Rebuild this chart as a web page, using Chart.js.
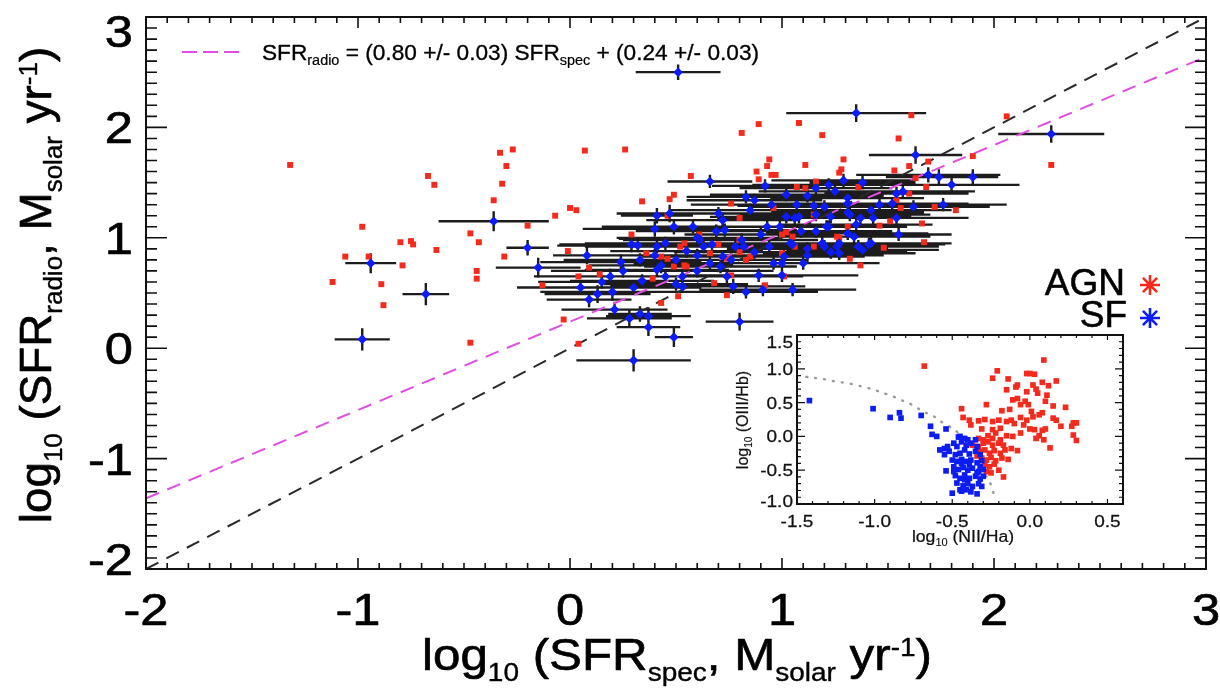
<!DOCTYPE html>
<html>
<head>
<meta charset="utf-8">
<script src="https://cdn.jsdelivr.net/npm/chart.js@4.4.1/dist/chart.umd.min.js"></script>
<style>
  html, body { margin: 0; padding: 0; background: #fff; }
  #wrap { position: relative; width: 1220px; height: 688px; overflow: hidden; background: #fff; }
  #main { position: absolute; left: 0; top: 0; }
  #inset { position: absolute; left: 700px; top: 325px; }
</style>
</head>
<body>
<div id="wrap">
  <canvas id="main" width="1220" height="688"></canvas>
  <canvas id="inset" width="440" height="230"></canvas>
</div>
<script>
// ---------------- DATA ----------------
// Main panel: AGN (red squares)
const agnX = [-1.32,-0.98,-1.06,-0.95,-1.12,-0.89,-0.88,-0.80,-0.75,-0.74,
  -0.79,-0.67,-0.64,-0.63,-0.47,-0.47,-0.43,-0.44,-0.44,-0.33,
  -0.27,-0.30,-0.32,-0.36,-0.31,-0.20,-0.07,0.00,0.03,-0.01,
  -0.13,-0.03,0.04,0.07,0.09,0.04,0.26,0.57,0.94,0.93,
  0.88,0.95,0.97,0.89,0.34,0.47,0.49,0.96,0.76,0.80,
  0.29,0.46,0.14,0.39,0.46,0.52,0.54,0.49,0.55,0.68,
  0.74,0.76,0.83,0.85,0.92,0.74,0.43,0.51,0.80,1.00,
  0.89,1.08,0.81,1.19,1.61,1.55,1.11,1.29,1.28,1.27,
  1.53,1.60,1.69,1.90,2.06,1.16,1.07,1.11,1.36,1.63,
  1.68,1.60,1.54,1.56,1.72,1.15,1.66,1.46,1.51,1.31,
  1.27,1.67,1.48,1.32,1.37,1.05,1.01,2.27,1.82,0.54,
  0.43,1.00,1.02,1.06,1.15,1.26,0.61,0.66,0.36,0.70,0.80];
const agnY = [1.66,1.10,0.83,0.83,0.60,0.58,0.39,0.96,0.97,0.94,
  0.75,1.56,1.48,0.89,0.05,1.04,0.96,0.70,0.63,1.77,
  1.80,1.65,1.49,1.34,0.83,1.11,1.20,1.27,1.25,0.88,
  0.57,0.26,0.04,1.79,0.73,0.65,1.80,1.56,1.71,1.65,
  1.60,1.57,1.57,1.53,1.33,1.35,1.39,1.27,1.31,1.18,
  1.03,1.20,0.67,0.63,0.81,0.92,0.95,0.74,0.74,0.59,
  0.81,0.66,0.80,0.83,0.57,0.48,0.41,0.47,0.87,0.86,
  2.03,2.04,1.95,1.93,2.11,1.90,1.66,1.71,1.62,1.59,
  1.61,1.65,1.69,1.74,2.10,1.51,1.46,1.45,1.46,1.54,
  1.46,1.40,1.34,1.27,1.28,1.21,1.13,1.11,1.15,1.10,
  1.00,0.96,0.91,0.81,0.75,1.01,0.65,1.66,1.25,0.75,
  0.83,1.03,1.05,0.92,0.92,1.01,1.03,0.86,0.86,0.94,0.98];

// Main panel: SF (blue points with error bars)
const sfX = [-0.94,-0.68,-0.98,-0.36,-0.20,-0.15,0.08,0.66,0.92,0.83,
  0.87,0.72,0.41,0.47,0.49,0.40,0.69,0.73,0.29,0.32,
  0.41,0.61,0.67,0.82,0.24,0.40,0.43,0.50,0.19,0.41,
  0.53,0.71,0.77,0.83,0.89,0.96,1.00,0.09,0.13,0.20,
  0.34,0.50,0.53,0.21,0.28,0.33,0.37,0.37,0.49,0.80,
  0.30,1.35,1.63,1.69,1.74,1.80,1.90,1.29,1.38,1.02,
  1.12,1.16,1.22,1.25,1.31,1.31,1.46,1.52,1.54,1.57,
  1.62,1.76,1.07,1.15,1.20,1.31,1.06,1.16,1.37,1.43,
  1.54,1.22,1.35,1.16,1.09,1.55,1.27,1.34,1.41,1.04,
  1.05,1.20,1.38,1.23,1.27,1.12,1.10,1.05,0.99,2.27,
  0.51,0.93,1.02,0.90,0.81,0.76,1.00,0.91,0.74,0.66,
  0.60,0.61,0.55,0.60,0.63,0.72,0.78,0.87,0.94,1.01,
  1.12,1.19,1.26,1.36,1.42,1.31,1.21,1.08,1.23,1.32,
  1.42,0.15,0.25,0.33,0.45,0.58,0.70,0.85,0.95,0.05,
  0.60,0.45,0.30];
const sfY = [0.77,0.49,0.08,1.15,0.91,0.73,0.84,1.51,1.47,1.37,
  1.34,1.16,1.20,1.22,1.10,1.08,1.06,1.07,0.94,0.93,
  0.92,0.99,0.94,0.92,0.78,0.84,0.75,0.80,0.65,0.71,
  0.65,0.74,0.56,0.51,0.66,0.77,0.66,0.44,0.49,0.51,
  0.61,0.58,0.56,0.35,0.27,0.31,0.29,0.19,0.10,0.24,
  -0.11,2.13,1.75,1.57,1.55,1.48,1.55,1.52,1.50,1.39,
  1.38,1.45,1.48,1.42,1.36,1.31,1.30,1.31,1.40,1.42,
  1.28,1.30,1.30,1.29,1.28,1.23,1.18,1.21,1.18,1.18,
  1.18,1.10,1.12,1.06,1.06,1.03,0.95,1.01,0.94,0.95,
  0.94,0.92,0.89,0.87,0.86,0.84,0.77,0.53,1.10,1.94,
  2.50,1.10,1.19,1.03,0.98,0.80,0.77,0.53,0.65,0.77,
  0.84,0.98,0.88,1.00,0.92,0.83,0.92,0.87,0.92,0.83,
  0.90,0.95,0.92,0.92,0.95,1.04,1.10,1.19,1.19,1.21,
  1.25,0.60,0.70,0.80,0.95,1.10,1.22,1.25,1.30,0.55,
  0.70,0.65,0.55];
const sfXErr = [0.12,0.11,0.13,0.26,0.10,0.20,0.16,0.20,0.25,0.28,
  0.32,0.36,0.17,0.25,0.34,0.34,0.38,0.34,0.34,0.38,
  0.34,0.38,0.34,0.38,0.38,0.34,0.34,0.38,0.36,0.34,
  0.34,0.36,0.34,0.34,0.36,0.36,0.36,0.20,0.25,0.34,
  0.34,0.34,0.34,0.25,0.20,0.15,0.20,0.15,0.09,0.16,
  0.27,0.33,0.22,0.34,0.25,0.32,0.12,0.34,0.25,0.36,
  0.36,0.36,0.36,0.36,0.36,0.36,0.36,0.36,0.34,0.34,
  0.36,0.30,0.36,0.36,0.36,0.36,0.36,0.36,0.36,0.36,
  0.34,0.36,0.36,0.36,0.36,0.25,0.36,0.36,0.36,0.36,
  0.36,0.36,0.36,0.36,0.36,0.36,0.36,0.30,0.36,0.25,
  0.20,0.36,0.36,0.36,0.36,0.36,0.36,0.30,0.36,0.36,
  0.36,0.36,0.36,0.38,0.38,0.38,0.38,0.38,0.38,0.38,
  0.38,0.38,0.38,0.38,0.38,0.38,0.38,0.38,0.38,0.38,
  0.38,0.30,0.34,0.36,0.38,0.38,0.38,0.38,0.38,0.30,
  0.36,0.36,0.32];
const sfYErr = [0.09,0.10,0.10,0.09,0.07,0.09,0.08,0.06,0.06,0.06,
  0.06,0.07,0.07,0.08,0.07,0.07,0.06,0.06,0.07,0.06,
  0.06,0.06,0.07,0.06,0.07,0.06,0.07,0.06,0.07,0.06,
  0.07,0.06,0.07,0.06,0.06,0.06,0.06,0.07,0.08,0.08,
  0.06,0.06,0.06,0.07,0.08,0.07,0.08,0.08,0.09,0.08,
  0.10,0.08,0.08,0.07,0.07,0.07,0.07,0.06,0.06,0.06,
  0.06,0.06,0.06,0.06,0.06,0.06,0.06,0.06,0.06,0.06,
  0.06,0.06,0.06,0.06,0.06,0.06,0.06,0.06,0.06,0.06,
  0.06,0.06,0.06,0.06,0.06,0.06,0.06,0.06,0.06,0.06,
  0.06,0.06,0.06,0.06,0.06,0.06,0.06,0.06,0.06,0.08,
  0.07,0.06,0.06,0.06,0.06,0.06,0.06,0.06,0.06,0.06,
  0.06,0.06,0.06,0.06,0.06,0.06,0.06,0.06,0.06,0.06,
  0.06,0.06,0.06,0.06,0.06,0.06,0.06,0.06,0.06,0.06,
  0.06,0.06,0.06,0.06,0.06,0.06,0.06,0.06,0.06,0.06,
  0.06,0.06,0.06];

// Reference lines (end points)
const lineX = [-2, 3];
const oneToOneY = [-2, 3];
const fitY = [-1.36, 2.64];

// Main axis ticks
const mainXTicks = [-2, -1, 0, 1, 2, 3];
const mainYTicks = [-2, -1, 0, 1, 2, 3];
const mainXTickLabels = ['-2', '-1', '0', '1', '2', '3'];
const mainYTickLabels = ['-2', '-1', '0', '1', '2', '3'];

// Inset (BPT diagram)
const bptSfX = [-1.42,-1.01,-0.90,-0.84,-0.83,-0.70,-0.64,-0.63,-0.60,-0.54,
  -0.46,-0.58,-0.55,-0.54,-0.50,-0.45,-0.44,-0.34,-0.31,
  -0.49,-0.47,-0.44,-0.41,-0.38,-0.34,-0.52,-0.48,-0.45,-0.42,
  -0.39,-0.35,-0.32,-0.50,-0.47,-0.44,-0.41,-0.38,-0.34,-0.31,
  -0.49,-0.46,-0.43,-0.40,-0.37,-0.33,-0.30,-0.48,-0.45,-0.42,
  -0.39,-0.35,-0.32,-0.47,-0.43,-0.40,-0.37,-0.33,-0.41,-0.38,
  -0.42,-0.45,-0.40,-0.35,-0.53,-0.55,-0.39,-0.42,-0.44,-0.34,
  -0.30,-0.32,-0.49];
const bptSfY = [0.53,0.41,0.28,0.35,0.27,0.31,0.15,0.03,0.00,0.11,
  -0.01,-0.20,-0.27,-0.51,-0.84,-0.79,-0.81,-0.85,-0.74,
  -0.10,-0.15,-0.08,-0.13,-0.10,-0.15,-0.22,-0.27,-0.25,-0.20,
  -0.26,-0.22,-0.27,-0.35,-0.37,-0.34,-0.37,-0.35,-0.39,-0.36,
  -0.45,-0.49,-0.46,-0.50,-0.47,-0.52,-0.49,-0.58,-0.62,-0.57,
  -0.62,-0.59,-0.63,-0.69,-0.73,-0.70,-0.74,-0.70,-0.79,-0.82,
  -0.03,0.00,-0.05,-0.05,-0.15,-0.18,-0.42,-0.64,-0.40,-0.54,
  -0.59,-0.45,-0.52];
const bptAgnX = [-0.68,0.09,-0.21,-0.24,-0.14,-0.02,0.00,0.03,-0.08,-0.09,
  -0.15,-0.02,0.02,0.08,0.12,0.17,0.04,0.05,0.11,0.10,
  -0.28,-0.44,-0.18,-0.13,-0.06,-0.03,-0.01,-0.11,-0.08,0.01,
  0.02,0.06,0.08,0.15,0.23,0.15,0.17,0.20,0.28,0.30,
  0.27,0.28,0.30,-0.43,-0.39,-0.33,-0.29,-0.24,-0.20,-0.38,
  -0.31,-0.24,-0.19,-0.15,-0.12,-0.10,-0.06,-0.04,-0.02,0.00,
  0.03,0.08,0.10,0.06,0.04,0.09,0.13,-0.12,-0.08,-0.14,
  -0.17,-0.20,-0.06,-0.11,-0.15,-0.19,-0.37,-0.33,-0.30,-0.27,
  -0.24,-0.20,-0.32,-0.29,-0.26,-0.23,-0.19,-0.31,-0.28,-0.25,
  -0.22,-0.18,-0.29,-0.26,-0.23,-0.28,-0.25,-0.30,-0.33,-0.27,
  -0.24,-0.22,-0.17,-0.16,-0.34];
const bptAgnY = [1.04,1.13,0.97,0.86,0.85,0.93,0.93,0.92,0.76,0.73,
  0.69,0.66,0.76,0.80,0.75,0.82,0.70,0.64,0.61,0.52,
  0.47,0.41,0.38,0.40,0.47,0.52,0.47,0.54,0.56,0.37,
  0.29,0.32,0.35,0.45,0.43,0.27,0.24,0.15,0.20,0.20,
  0.15,0.02,-0.06,0.28,0.24,0.23,0.25,0.22,0.24,0.17,
  0.11,0.10,0.12,0.22,0.24,0.19,0.28,0.17,0.24,0.11,
  0.10,0.09,0.11,0.01,-0.03,-0.05,-0.17,-0.18,-0.21,-0.34,
  -0.60,-0.50,0.05,0.00,0.01,-0.05,-0.13,-0.15,-0.10,-0.08,
  -0.13,-0.10,-0.22,-0.20,-0.25,-0.21,-0.25,-0.32,-0.35,-0.31,
  -0.36,-0.32,-0.42,-0.45,-0.41,-0.52,-0.54,-0.05,-0.03,0.01,
  -0.03,0.05,-0.13,-0.20,-0.29];
// Demarcation curve
const kaufX = [-1.44,-1.37,-1.31,-1.25,-1.18,-1.12,-1.05,-0.99,-0.93,-0.88,-0.83,-0.77,-0.73,-0.69,
  -0.64,-0.60,-0.56,-0.52,-0.47,-0.43,-0.40,-0.37,-0.33,-0.30,-0.28,-0.25,-0.23];
const kaufY = [0.88,0.86,0.84,0.81,0.79,0.76,0.72,0.68,0.63,0.59,0.54,0.48,0.43,0.37,
  0.32,0.27,0.20,0.15,0.07,-0.01,-0.10,-0.20,-0.31,-0.45,-0.59,-0.72,-0.87];
const insetXTicks = [-1.5, -1.0, -0.5, 0.0, 0.5];
const insetYTicks = [-1.0, -0.5, 0.0, 0.5, 1.0, 1.5];
const insetXTickLabels = ['-1.5', '-1.0', '-0.5', '0.0', '0.5'];
const insetYTickLabels = ['-1.0', '-0.5', '0.0', '0.5', '1.0', '1.5'];

// ---------------- HELPERS ----------------
const FONT = '"Liberation Sans", Arial, Helvetica, sans-serif';
const RED = '#f42a1c';
const BLUE = '#0c1cf2';
const MAGENTA = '#e04fe0';
const STROKE = 0.015;

function pts(xs, ys) { return xs.map((v, i) => ({ x: v, y: ys[i] })); }
function hBars(xs, ys, es) {
  const out = [];
  xs.forEach((v, i) => { out.push({ x: v - es[i], y: ys[i] }, { x: v + es[i], y: ys[i] }, { x: v, y: null }); });
  return out;
}
function vBars(xs, ys, es) {
  const out = [];
  xs.forEach((v, i) => { out.push({ x: v, y: ys[i] - es[i] }, { x: v, y: ys[i] + es[i] }, { x: v, y: null }); });
  return out;
}
function txt(ctx, s, x, y, size, sx, align) {
  ctx.save();
  ctx.font = size + 'px ' + FONT;
  const w = ctx.measureText(s).width * sx;
  const x0 = align === 'center' ? x - w / 2 : (align === 'right' ? x - w : x);
  ctx.translate(x0, y); ctx.scale(sx, 1);
  ctx.textAlign = 'left'; ctx.textBaseline = 'alphabetic';
  ctx.fillText(s, 0, 0);
  ctx.strokeStyle = ctx.fillStyle; ctx.lineWidth = size * STROKE; ctx.lineJoin = 'round';
  ctx.strokeText(s, 0, 0);
  ctx.restore();
}
function richWidth(ctx, segs) {
  let w = 0;
  segs.forEach(s => { ctx.font = s.s + 'px ' + FONT; w += ctx.measureText(s.t).width; });
  return w;
}
// draws rich text with baseline at (x,y); rot in radians
function rich(ctx, segs, x, y, sx, align, rot) {
  ctx.save();
  ctx.translate(x, y);
  if (rot) ctx.rotate(rot);
  ctx.scale(sx, 1);
  const w = richWidth(ctx, segs);
  let cx = align === 'center' ? -w / 2 : 0;
  ctx.textAlign = 'left'; ctx.textBaseline = 'alphabetic';
  ctx.strokeStyle = ctx.fillStyle; ctx.lineJoin = 'round';
  segs.forEach(s => {
    ctx.font = s.s + 'px ' + FONT;
    ctx.fillText(s.t, cx, s.dy || 0);
    ctx.lineWidth = s.s * STROKE;
    ctx.strokeText(s.t, cx, s.dy || 0);
    cx += ctx.measureText(s.t).width;
  });
  ctx.restore();
}
function drawTicks(ctx, a, xs, ys, o) {
  ctx.save();
  ctx.strokeStyle = '#111'; ctx.lineWidth = o.lw; ctx.lineCap = 'butt';
  ctx.beginPath();
  const nx = Math.round((xs.max - xs.min) / o.minorX);
  for (let i = 0; i <= nx; i++) {
    const v = xs.min + i * o.minorX;
    const r = v / o.majorX;
    const L = Math.abs(r - Math.round(r)) < 1e-6 ? o.xMaj : o.xMin;
    const p = xs.getPixelForValue(v);
    ctx.moveTo(p, a.bottom); ctx.lineTo(p, a.bottom - L);
    ctx.moveTo(p, a.top); ctx.lineTo(p, a.top + L);
  }
  const ny = Math.round((ys.max - ys.min) / o.minorY);
  for (let i = 0; i <= ny; i++) {
    const v = ys.min + i * o.minorY;
    const r = v / o.majorY;
    const L = Math.abs(r - Math.round(r)) < 1e-6 ? o.yMaj : o.yMin;
    const p = ys.getPixelForValue(v);
    ctx.moveTo(a.left, p); ctx.lineTo(a.left + L, p);
    ctx.moveTo(a.right, p); ctx.lineTo(a.right - L, p);
  }
  ctx.stroke();
  ctx.lineWidth = o.fw;
  ctx.strokeRect(a.left, a.top, a.right - a.left, a.bottom - a.top);
  ctx.restore();
}
function asterisk(ctx, x, y, r, color) {
  ctx.save(); ctx.strokeStyle = color; ctx.lineWidth = 2.6; ctx.beginPath();
  for (let k = 0; k < 4; k++) {
    const ang = k * Math.PI / 4;
    ctx.moveTo(x - r * Math.cos(ang), y - r * Math.sin(ang));
    ctx.lineTo(x + r * Math.cos(ang), y + r * Math.sin(ang));
  }
  ctx.stroke(); ctx.restore();
}

// ---------------- MAIN CHART ----------------
const mainDecor = {
  id: 'mainDecor',
  afterDatasetsDraw(chart) {
    const ctx = chart.ctx, a = chart.chartArea, xs = chart.scales.x, ys = chart.scales.y;
    drawTicks(ctx, a, xs, ys, { minorX: 0.1, majorX: 1, minorY: 0.1, majorY: 1, xMaj: 11, xMin: 6, yMaj: 21, yMin: 11, lw: 1.6, fw: 2 });
    ctx.fillStyle = '#000';
    // tick labels
    mainXTicks.forEach((v, i) => txt(ctx, mainXTickLabels[i], xs.getPixelForValue(v), 625, 44, 1.15, 'center'));
    mainYTicks.forEach((v, i) => {
      let c = ys.getPixelForValue(v);
      c = Math.min(Math.max(c, 31), 559);
      txt(ctx, mainYTickLabels[i], 133, c + 16, 44, 1.15, 'right');
    });
    // axis titles
    rich(ctx, [{ t: 'log', s: 44 }, { t: '10', s: 25, dy: 11 }, { t: ' (SFR', s: 44 }, { t: 'spec', s: 25, dy: 11 },
      { t: ', M', s: 44 }, { t: 'solar', s: 25, dy: 11 }, { t: ' yr', s: 44 }, { t: '-1', s: 25, dy: -14 }, { t: ')', s: 44 }],
      677, 670, 1.12, 'center', 0);
    rich(ctx, [{ t: 'log', s: 44 }, { t: '10', s: 25, dy: 11 }, { t: ' (SFR', s: 44 }, { t: 'radio', s: 25, dy: 11 },
      { t: ', M', s: 44 }, { t: 'solar', s: 25, dy: 11 }, { t: ' yr', s: 44 }, { t: '-1', s: 25, dy: -14 }, { t: ')', s: 44 }],
      51, 285, 1.04, 'center', -Math.PI / 2);
    // fit legend
    ctx.save(); ctx.strokeStyle = MAGENTA; ctx.lineWidth = 2; ctx.setLineDash([15, 6]);
    ctx.beginPath(); ctx.moveTo(182, 52); ctx.lineTo(243, 52); ctx.stroke(); ctx.restore();
    rich(ctx, [{ t: 'SFR', s: 22 }, { t: 'radio', s: 14, dy: 5 }, { t: ' = (0.80 +/- 0.03) SFR', s: 22 },
      { t: 'spec', s: 14, dy: 5 }, { t: ' + (0.24 +/- 0.03)', s: 22 }], 262, 60, 1.03, 'left', 0);
    // class legend
    txt(ctx, 'AGN', 1125, 295, 37, 1.0, 'right');
    txt(ctx, 'SF', 1127, 327, 37, 1.0, 'right');
    asterisk(ctx, 1150, 285, 10, RED);
    asterisk(ctx, 1150, 318, 10, BLUE);
  }
};

new Chart(document.getElementById('main'), {
  type: 'scatter',
  data: {
    datasets: [
      { label: 'x errors', data: hBars(sfX, sfY, sfXErr), showLine: true, spanGaps: false, borderColor: '#1c1c1c', borderWidth: 2.3, pointRadius: 0, order: 6 },
      { label: 'y errors', data: vBars(sfX, sfY, sfYErr), showLine: true, spanGaps: false, borderColor: '#1c1c1c', borderWidth: 2.4, pointRadius: 0, order: 5 },
      { label: '1:1', data: pts(lineX, oneToOneY), showLine: true, borderColor: '#2a2a2a', borderWidth: 2, borderDash: [14, 9], pointRadius: 0, order: 4 },
      { label: 'fit', data: pts(lineX, fitY), showLine: true, borderColor: MAGENTA, borderWidth: 2, borderDash: [14, 9], pointRadius: 0, order: 4 },
      { label: 'AGN', data: pts(agnX, agnY), pointStyle: 'rect', pointRadius: 4.2, backgroundColor: RED, borderWidth: 0, order: 3 },
      { label: 'SF', data: pts(sfX, sfY), pointStyle: 'rectRot', pointRadius: 4.8, backgroundColor: BLUE, borderWidth: 0, order: 1 }
    ]
  },
  options: {
    responsive: false, animation: false, devicePixelRatio: 1,
    layout: { padding: { left: 146, right: 14, top: 17, bottom: 119 } },
    scales: {
      x: { type: 'linear', min: -2, max: 3, display: false },
      y: { type: 'linear', min: -2, max: 3, display: false }
    },
    plugins: { legend: { display: false }, tooltip: { enabled: false } },
    events: []
  },
  plugins: [mainDecor]
});

// ---------------- INSET CHART ----------------
const insetDecor = {
  id: 'insetDecor',
  beforeDatasetsDraw(chart) {
    const ctx = chart.ctx, a = chart.chartArea;
    ctx.save(); ctx.fillStyle = '#fff'; ctx.fillRect(a.left, a.top, a.right - a.left, a.bottom - a.top); ctx.restore();
  },
  afterDatasetsDraw(chart) {
    const ctx = chart.ctx, a = chart.chartArea, xs = chart.scales.x, ys = chart.scales.y;
    drawTicks(ctx, a, xs, ys, { minorX: 0.1, majorX: 0.5, minorY: 0.1, majorY: 0.5, xMaj: 5, xMin: 3, yMaj: 8, yMin: 4, lw: 1.2, fw: 2 });
    ctx.fillStyle = '#111';
    insetXTicks.forEach((v, i) => txt(ctx, insetXTickLabels[i], xs.getPixelForValue(v), 202, 17, 1.12, 'center'));
    insetYTicks.forEach((v, i) => {
      let c = ys.getPixelForValue(v);
      c = Math.min(Math.max(c, 17), 176);
      txt(ctx, insetYTickLabels[i], 93, c + 6, 17, 1.12, 'right');
    });
    rich(ctx, [{ t: 'log', s: 16 }, { t: '10', s: 10, dy: 4 }, { t: ' (NII/Ha)', s: 16 }], 263, 217, 1.1, 'center', 0);
    rich(ctx, [{ t: 'log', s: 16 }, { t: '10', s: 10, dy: 4 }, { t: ' (OIII/Hb)', s: 16 }], 48, 95, 1.0, 'center', -Math.PI / 2);
  }
};

new Chart(document.getElementById('inset'), {
  type: 'scatter',
  data: {
    datasets: [
      { label: 'Kauffmann', data: pts(kaufX, kaufY), showLine: true, tension: 0.4, borderColor: '#9a9a9a', borderWidth: 2.4, borderDash: [1, 8], borderCapStyle: 'round', pointRadius: 0, order: 4 },
      { label: 'AGN', data: pts(bptAgnX, bptAgnY), pointStyle: 'rect', pointRadius: 4, backgroundColor: RED, borderWidth: 0, order: 2 },
      { label: 'SF', data: pts(bptSfX, bptSfY), pointStyle: 'rect', pointRadius: 4, backgroundColor: BLUE, borderWidth: 0, order: 1 }
    ]
  },
  options: {
    responsive: false, animation: false, devicePixelRatio: 1,
    layout: { padding: { left: 97, right: 17, top: 10, bottom: 51 } },
    scales: {
      x: { type: 'linear', min: -1.5, max: 0.6, display: false },
      y: { type: 'linear', min: -1.0, max: 1.5, display: false }
    },
    plugins: { legend: { display: false }, tooltip: { enabled: false } },
    events: []
  },
  plugins: [insetDecor]
});
</script>
</body>
</html>
